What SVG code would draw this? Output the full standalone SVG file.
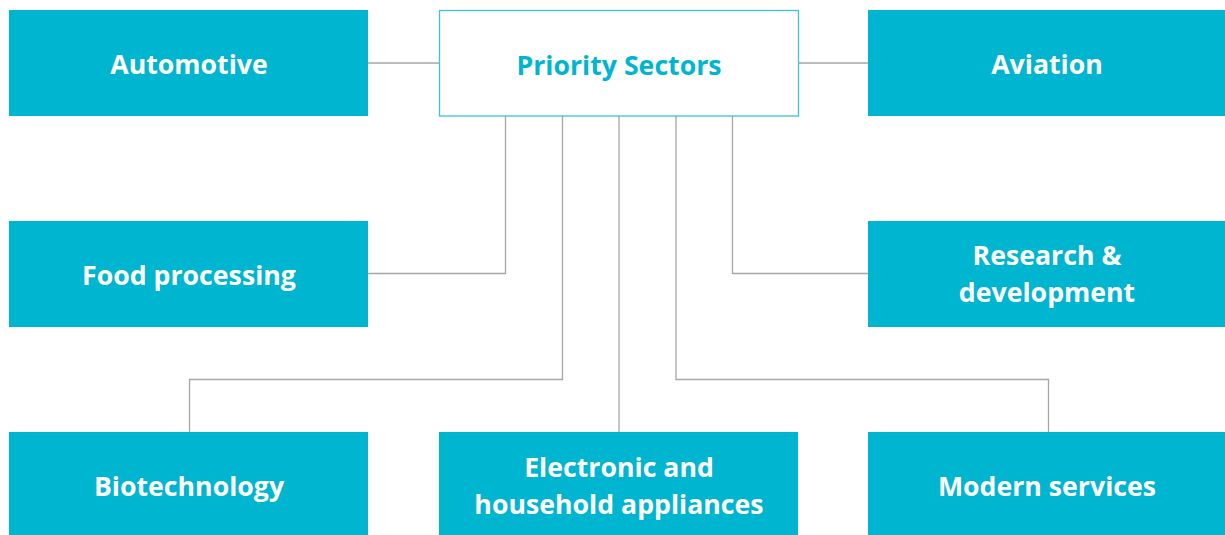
<svg xmlns="http://www.w3.org/2000/svg" width="1225" height="535" viewBox="0 0 1225 535">
<style>
.box{fill:#00b5cf}
.hub{fill:#fff;stroke:#3cc3d6;stroke-width:1.3}
.t{font-family:"Open Sans","Noto Sans",sans-serif;font-weight:700;font-size:26.7px;fill:#fff;text-anchor:middle}
.th{fill:#00b5cf}
.c{fill:none;stroke:#a6a6a6;stroke-width:1.3}
</style>
<rect width="1225" height="535" fill="#fff"/>
<g id="connectors">
<path class="c" d="M368 63H439"/>
<path class="c" d="M798 63H868"/>
<path class="c" d="M505.5 116V273.5H368"/>
<path class="c" d="M562.5 116V379.5H189.5V432"/>
<path class="c" d="M619 116V432"/>
<path class="c" d="M676 116V379.5H1048.5V432"/>
<path class="c" d="M732.5 116V273.5H868"/>
</g>
<g id="hub"><rect class="hub" x="439.5" y="10.5" width="359" height="105.5"/><text class="t th" x="619" y="75">Priority Sectors</text></g>
<g id="automotive"><rect class="box" x="9" y="10" width="359" height="106"/><text class="t" x="189" y="74">Automotive</text></g>
<g id="aviation"><rect class="box" x="868" y="10" width="357" height="106"/><text class="t" x="1047" y="74">Aviation</text></g>
<g id="food"><rect class="box" x="9" y="221" width="359" height="106"/><text class="t" x="189" y="285">Food processing</text></g>
<g id="research"><rect class="box" x="868" y="221" width="357" height="106"/><text class="t" x="1047" y="265">Research &amp;</text><text class="t" x="1047" y="302">development</text></g>
<g id="biotech"><rect class="box" x="9" y="432" width="359" height="103"/><text class="t" x="189" y="496">Biotechnology</text></g>
<g id="electronic"><rect class="box" x="439" y="432" width="359" height="103"/><text class="t" x="619" y="477">Electronic and</text><text class="t" x="619" y="514">household appliances</text></g>
<g id="modern"><rect class="box" x="868" y="432" width="357" height="103"/><text class="t" x="1047" y="496">Modern services</text></g>
</svg>
